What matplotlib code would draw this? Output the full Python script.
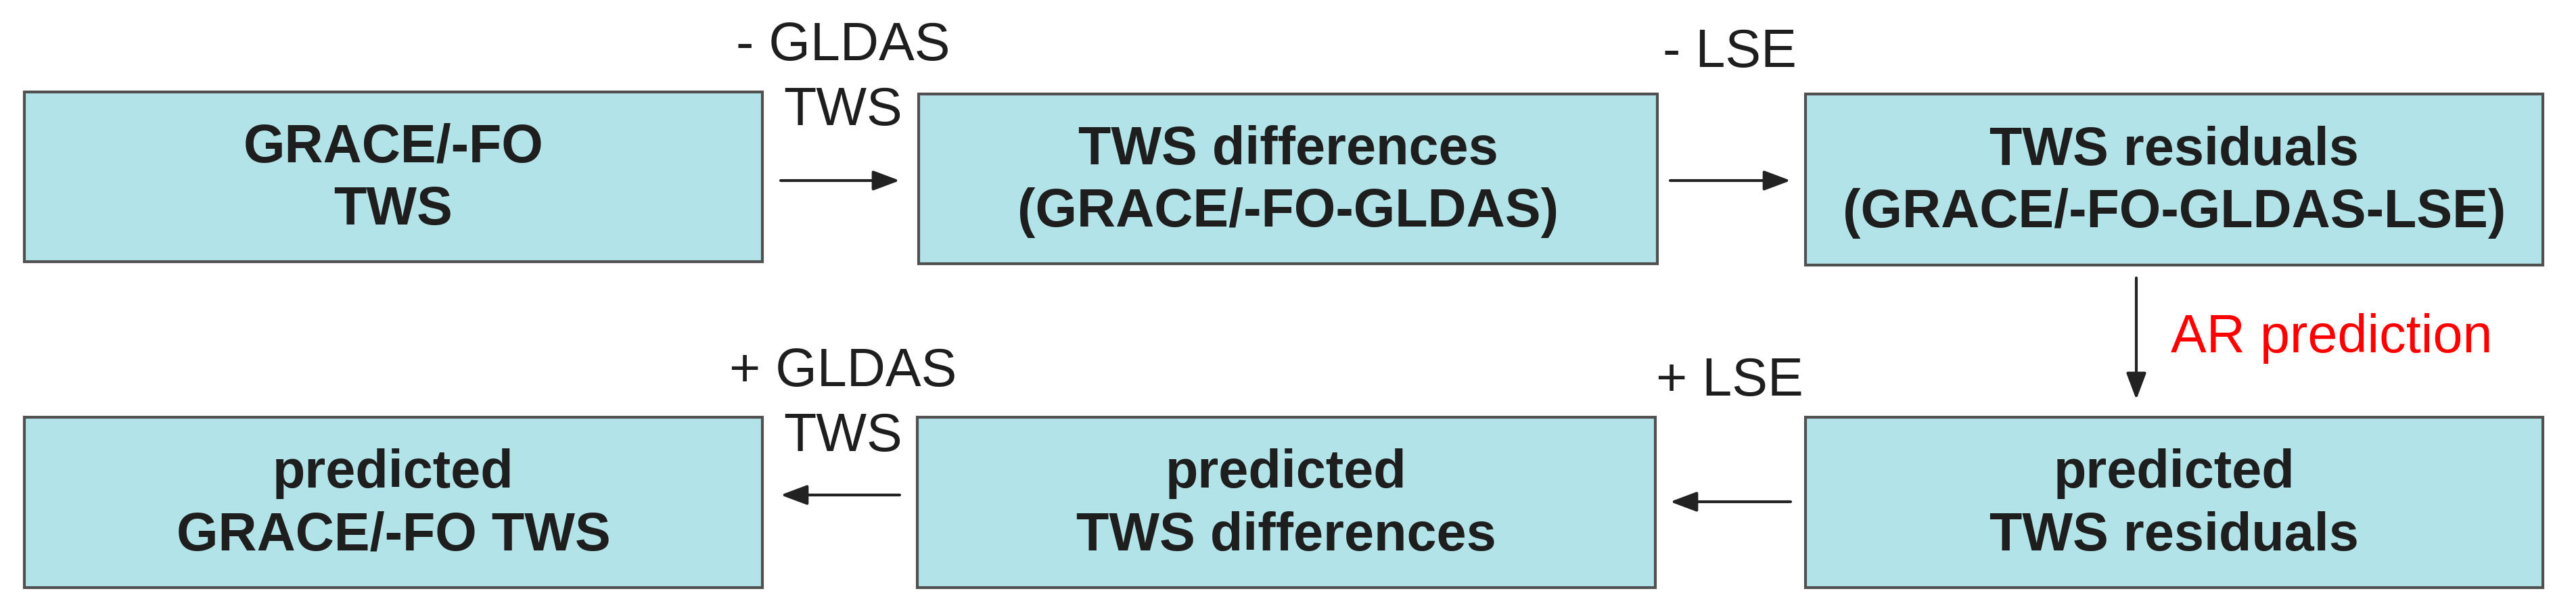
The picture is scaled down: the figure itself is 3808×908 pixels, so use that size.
import matplotlib.pyplot as plt
from matplotlib.patches import Rectangle

plt.rcParams['font.family'] = ['Liberation Sans', 'DejaVu Sans']

# boxes: (left, top, right, bottom) in pixels, and their text
box_edges = [(36, 136, 1127, 387), (1358, 139, 2450, 390), (2669, 139, 3759, 392),
             (36, 617, 1127, 869), (1356, 617, 2447, 869), (2669, 617, 3759, 869)]
box_texts = ['GRACE/-FO\nTWS', 'TWS differences\n(GRACE/-FO-GLDAS)',
             'TWS residuals\n(GRACE/-FO-GLDAS-LSE)',
             'predicted\nGRACE/-FO TWS', 'predicted\nTWS differences',
             'predicted\nTWS residuals']

# arrows: (x_from, y_from, x_to, y_to)
arrows = [(1154, 267, 1330, 267), (2469, 267, 2647, 267), (3158, 411, 3158, 591),
          (2647, 742, 2469, 742), (1330, 732, 1154, 732)]

# step labels: (x, y, text)
labels = [(1246, 69, '- GLDAS'), (1246, 165, 'TWS'),
          (2557, 78, '- LSE'), (1246, 550, '+ GLDAS'),
          (1246, 646, 'TWS'), (2557, 565, '+ LSE')]

fig = plt.figure(figsize=(38.08, 9.08), dpi=100)
ax = fig.add_axes([0, 0, 1, 1])
ax.set_xlim(0, 3808)
ax.set_ylim(908, 0)
ax.axis('off')

for (l, t, r, b), txt in zip(box_edges, box_texts):
    ax.add_patch(Rectangle((l, t), r - l, b - t, facecolor='#b1e3e8',
                           edgecolor='#505050', linewidth=3))
    ax.text((l + r) / 2, (t + b) / 2 + 4, txt, ha='center', va='center',
            fontsize=57, fontweight='bold', color='#1e1e1e', linespacing=1.3)

for x0, y0, x1, y1 in arrows:
    ax.annotate('', xy=(x1, y1), xytext=(x0, y0),
                arrowprops=dict(arrowstyle='-|>,head_length=2.4,head_width=0.9',
                                color='#222222', lw=3, shrinkA=0, shrinkB=0))

for x, y, txt in labels:
    ax.text(x, y, txt, ha='center', va='center', fontsize=57, color='#1e1e1e')

ax.text(3209, 501, 'AR prediction', ha='left', va='center', fontsize=57, color='#ff0000')

fig.savefig('out.png', dpi=100)
